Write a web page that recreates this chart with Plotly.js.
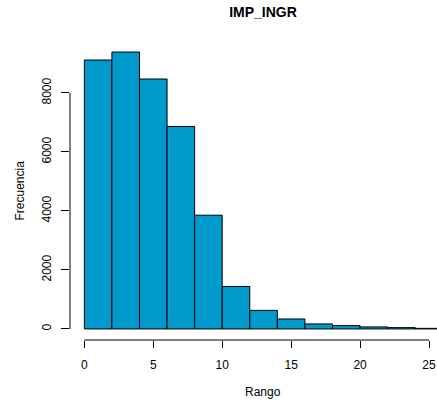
<!DOCTYPE html>
<html><head><meta charset="utf-8">
<script src="https://cdn.plot.ly/plotly-3.0.1.min.js"></script>
<style>html,body{margin:0;padding:0;background:#fff}</style>
</head><body><div id="chart" style="width:437px;height:406px"></div>
<script>
const binStarts = [0,2,4,6,8,10,12,14,16,18,20,22,24];
const binWidth = 2;
const counts = [9116,9386,8473,6864,3855,1440,629,338,169,112,68,44,20];
const xTicks = [0,5,10,15,20,25];
const yTicks = [0,2000,4000,6000,8000];

const centers = binStarts.map(s => s + binWidth/2);
const font = {family:'Liberation Sans, Arial, sans-serif', size:12, color:'#000'};

Plotly.newPlot('chart', [{
  type:'bar', x:centers, y:counts, width:binStarts.map(()=>binWidth),
  marker:{color:'#0099CC', line:{color:'#000', width:1}},
  hoverinfo:'skip'
}], {
  width:437, height:406,
  margin:{l:70, r:0, t:41, b:66},
  paper_bgcolor:'#fff', plot_bgcolor:'#fff',
  showlegend:false, bargap:0,
  font:font,
  title:{text:'<b>IMP_INGR</b>', font:{family:'Liberation Sans, Arial, sans-serif', size:14, color:'#000'},
         x:263/437, xref:'container', xanchor:'center', y:1-12/406, yref:'container', yanchor:'middle'},
  xaxis:{range:[-1.04, 25.58], showgrid:false, zeroline:false, showline:false,
         tickmode:'array', tickvals:xTicks, ticktext:xTicks.map(String),
         ticks:'outside', ticklen:7, tickcolor:'#000', tickwidth:1, tickfont:font, fixedrange:true,
         ticklabelstandoff:7},
  yaxis:{range:[-375, 9761], showgrid:false, zeroline:false, showline:false,
         tickmode:'array', tickvals:yTicks, ticktext:yTicks.map(String), tickangle:-90,
         ticks:'outside', ticklen:8, tickcolor:'#000', tickwidth:1, tickfont:font, fixedrange:true,
         ticklabelstandoff:5},
  shapes:[
    {type:'line', xref:'x', yref:'paper', x0:xTicks[0], x1:xTicks[xTicks.length-1], y0:0, y1:0, line:{color:'#000', width:1}},
    {type:'line', xref:'paper', yref:'y', x0:0, x1:0, y0:yTicks[0], y1:yTicks[yTicks.length-1], line:{color:'#000', width:1}}
  ],
  annotations:[
    {text:'Rango', xref:'paper', yref:'paper', x:(263-70)/367, y:-(392-340)/300, xanchor:'center', yanchor:'middle', showarrow:false, font:font},
    {text:'Frecuencia', xref:'paper', yref:'paper', x:-(70-19)/367, y:0.5, textangle:-90, xanchor:'center', yanchor:'middle', showarrow:false, font:font}
  ]
}, {displayModeBar:false, staticPlot:true});
</script></body></html>
